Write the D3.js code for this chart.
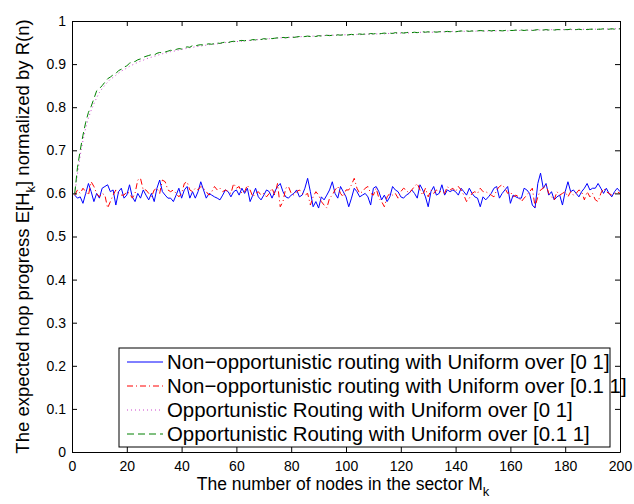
<!DOCTYPE html>
<html>
<head>
<meta charset="utf-8">
<script src="https://cdn.jsdelivr.net/npm/d3@7"></script>
<style>
  html, body { margin: 0; padding: 0; background: #fff; }
  svg { display: block; font-family: "Liberation Sans", Arial, Helvetica, sans-serif; }
</style>
</head>
<body>
<svg id="chart" width="634" height="504"></svg>
<script>
// Number of nodes in the sector, M_k = 1..200
const nodeCounts = d3.range(1, 201);

// Non-opportunistic routing, link quality uniform over [0 1]
const nonOppUniform01 = [
  0.596,0.589,0.592,0.577,0.600,0.623,0.604,0.581,0.600,0.589,
  0.612,0.616,0.620,0.604,0.608,0.573,0.604,0.612,0.589,0.596,
  0.620,0.592,0.581,0.600,0.589,0.608,0.596,0.585,0.600,0.581,
  0.612,0.631,0.604,0.596,0.589,0.589,0.581,0.596,0.612,0.589,
  0.608,0.616,0.589,0.604,0.589,0.604,0.627,0.608,0.589,0.600,
  0.596,0.592,0.589,0.585,0.596,0.608,0.604,0.592,0.604,0.608,
  0.596,0.612,0.600,0.612,0.581,0.596,0.612,0.592,0.585,0.596,
  0.608,0.604,0.589,0.604,0.616,0.623,0.604,0.592,0.589,0.596,
  0.600,0.608,0.592,0.596,0.612,0.635,0.604,0.569,0.581,0.566,
  0.592,0.585,0.596,0.608,0.627,0.600,0.589,0.616,0.604,0.592,
  0.569,0.589,0.612,0.604,0.592,0.596,0.600,0.592,0.573,0.612,
  0.616,0.604,0.585,0.596,0.581,0.592,0.616,0.608,0.604,0.592,
  0.589,0.596,0.600,0.608,0.600,0.589,0.620,0.608,0.592,0.569,
  0.604,0.616,0.596,0.600,0.620,0.596,0.608,0.604,0.608,0.604,
  0.596,0.612,0.604,0.596,0.612,0.600,0.592,0.589,0.569,0.592,
  0.585,0.592,0.600,0.612,0.616,0.589,0.600,0.608,0.616,0.577,
  0.596,0.592,0.589,0.589,0.612,0.608,0.600,0.573,0.566,0.623,
  0.647,0.612,0.623,0.596,0.604,0.585,0.592,0.596,0.573,0.604,
  0.627,0.604,0.608,0.600,0.592,0.604,0.612,0.623,0.608,0.612,
  0.612,0.623,0.612,0.600,0.612,0.600,0.592,0.604,0.612,0.604
];

// Non-opportunistic routing, link quality uniform over [0.1 1]
const nonOppUniform011 = [
  0.596,0.608,0.600,0.612,0.604,0.596,0.627,0.616,0.600,0.592,
  0.600,0.596,0.566,0.581,0.596,0.608,0.600,0.596,0.596,0.604,
  0.600,0.589,0.600,0.631,0.635,0.608,0.608,0.600,0.592,0.608,
  0.612,0.600,0.631,0.627,0.608,0.604,0.608,0.600,0.592,0.600,
  0.623,0.627,0.608,0.604,0.612,0.608,0.616,0.612,0.604,0.596,
  0.604,0.616,0.608,0.612,0.604,0.608,0.604,0.600,0.623,0.612,
  0.616,0.600,0.604,0.619,0.608,0.592,0.600,0.604,0.596,0.600,
  0.592,0.600,0.612,0.596,0.623,0.569,0.581,0.612,0.616,0.600,
  0.596,0.604,0.608,0.600,0.596,0.600,0.573,0.592,0.604,0.596,
  0.581,0.573,0.566,0.589,0.596,0.608,0.616,0.600,0.592,0.608,
  0.608,0.620,0.635,0.612,0.600,0.604,0.612,0.616,0.600,0.596,
  0.612,0.589,0.581,0.569,0.592,0.600,0.596,0.600,0.589,0.604,
  0.612,0.608,0.600,0.608,0.616,0.623,0.608,0.596,0.612,0.592,
  0.608,0.600,0.608,0.604,0.604,0.600,0.616,0.608,0.612,0.604,
  0.616,0.608,0.596,0.581,0.589,0.600,0.604,0.600,0.612,0.604,
  0.604,0.600,0.596,0.592,0.608,0.616,0.620,0.612,0.600,0.604,
  0.592,0.596,0.592,0.581,0.589,0.596,0.604,0.612,0.569,0.592,
  0.608,0.612,0.620,0.600,0.592,0.585,0.604,0.596,0.600,0.604,
  0.592,0.604,0.596,0.600,0.608,0.604,0.585,0.604,0.592,0.600,
  0.585,0.581,0.600,0.612,0.604,0.600,0.596,0.600,0.604,0.600
];

// Opportunistic routing, link quality uniform over [0 1]
const oppUniform01 = [
  0.600,0.645,0.688,0.722,0.752,0.775,0.793,0.808,0.822,0.834,
  0.843,0.851,0.858,0.865,0.869,0.874,0.879,0.884,0.887,0.891,
  0.895,0.898,0.901,0.904,0.907,0.909,0.912,0.914,0.916,0.918,
  0.920,0.922,0.924,0.925,0.927,0.929,0.930,0.931,0.933,0.934,
  0.935,0.937,0.938,0.939,0.940,0.941,0.942,0.943,0.944,0.945,
  0.946,0.946,0.947,0.948,0.949,0.950,0.950,0.951,0.952,0.952,
  0.953,0.953,0.954,0.955,0.955,0.956,0.956,0.957,0.957,0.958,
  0.958,0.959,0.959,0.960,0.960,0.961,0.961,0.961,0.962,0.962,
  0.963,0.963,0.963,0.964,0.964,0.964,0.965,0.965,0.965,0.966,
  0.966,0.966,0.967,0.967,0.967,0.967,0.968,0.968,0.968,0.968,
  0.968,0.968,0.968,0.969,0.968,0.969,0.969,0.970,0.969,0.970,
  0.970,0.970,0.971,0.970,0.971,0.971,0.972,0.971,0.972,0.972,
  0.972,0.973,0.972,0.973,0.973,0.973,0.974,0.973,0.974,0.974,
  0.974,0.974,0.975,0.974,0.975,0.975,0.975,0.975,0.976,0.975,
  0.976,0.976,0.976,0.976,0.976,0.977,0.976,0.977,0.977,0.977,
  0.976,0.977,0.976,0.977,0.977,0.977,0.977,0.978,0.977,0.978,
  0.978,0.978,0.978,0.978,0.978,0.979,0.978,0.979,0.979,0.979,
  0.979,0.979,0.979,0.979,0.980,0.979,0.980,0.980,0.980,0.980,
  0.980,0.980,0.980,0.980,0.981,0.980,0.981,0.981,0.981,0.981,
  0.981,0.981,0.981,0.981,0.981,0.982,0.981,0.982,0.982,0.982
];

// Opportunistic routing, link quality uniform over [0.1 1]
const oppUniform011 = [
  0.600,0.660,0.700,0.735,0.765,0.788,0.802,0.820,0.838,0.843,
  0.850,0.858,0.866,0.870,0.875,0.878,0.885,0.888,0.893,0.896,
  0.902,0.905,0.906,0.910,0.912,0.916,0.918,0.920,0.922,0.921,
  0.925,0.927,0.926,0.928,0.930,0.932,0.931,0.934,0.936,0.935,
  0.938,0.940,0.939,0.943,0.942,0.944,0.945,0.944,0.946,0.947,
  0.946,0.948,0.949,0.948,0.950,0.951,0.950,0.952,0.953,0.952,
  0.954,0.955,0.954,0.956,0.955,0.957,0.956,0.958,0.957,0.959,
  0.958,0.960,0.959,0.960,0.961,0.960,0.962,0.961,0.962,0.963,
  0.962,0.963,0.964,0.963,0.964,0.965,0.964,0.965,0.964,0.966,
  0.965,0.966,0.967,0.966,0.967,0.966,0.968,0.967,0.968,0.967,
  0.968,0.969,0.968,0.969,0.970,0.969,0.970,0.969,0.971,0.970,
  0.971,0.970,0.971,0.972,0.971,0.972,0.971,0.973,0.972,0.973,
  0.972,0.973,0.974,0.973,0.974,0.973,0.974,0.975,0.974,0.975,
  0.974,0.975,0.974,0.975,0.976,0.975,0.976,0.975,0.976,0.975,
  0.976,0.977,0.976,0.977,0.976,0.977,0.976,0.977,0.978,0.977,
  0.977,0.978,0.977,0.978,0.977,0.978,0.977,0.978,0.979,0.978,
  0.978,0.979,0.978,0.979,0.978,0.979,0.979,0.978,0.979,0.980,
  0.979,0.979,0.980,0.979,0.980,0.979,0.980,0.980,0.979,0.980,
  0.980,0.981,0.980,0.980,0.981,0.980,0.981,0.980,0.981,0.981,
  0.980,0.981,0.981,0.982,0.981,0.981,0.982,0.981,0.981,0.982
];

const xTicks = [0, 20, 40, 60, 80, 100, 120, 140, 160, 180, 200];
const yTicks = [0, 0.1, 0.2, 0.3, 0.4, 0.5, 0.6, 0.7, 0.8, 0.9, 1];

const seriesNames = [
  "Non−opportunistic routing with Uniform over [0 1]",
  "Non−opportunistic routing with Uniform over [0.1 1]",
  "Opportunistic Routing with Uniform over [0 1]",
  "Opportunistic Routing with Uniform over [0.1 1]"
];

const series = [
  { name: seriesNames[0], values: nonOppUniform01, color: "#0000ff", dash: null },
  { name: seriesNames[1], values: nonOppUniform011, color: "#ff0000", dash: "6,3,1,3" },
  { name: seriesNames[2], values: oppUniform01, color: "#cc44cc", dash: "1,3" },
  { name: seriesNames[3], values: oppUniform011, color: "#008000", dash: "7,4" }
];

const svg = d3.select("#chart");
const plot = { left: 72, right: 620, top: 21, bottom: 452 };

const x = d3.scaleLinear().domain([0, 200]).range([plot.left, plot.right]);
const y = d3.scaleLinear().domain([0, 1]).range([plot.bottom, plot.top]);

// Clip region for the data lines
svg.append("defs").append("clipPath").attr("id", "plot-clip")
  .append("rect")
  .attr("x", plot.left).attr("y", plot.top)
  .attr("width", plot.right - plot.left).attr("height", plot.bottom - plot.top);

// Data lines
const line = d3.line()
  .x((d, i) => x(nodeCounts[i]))
  .y(d => y(d));

const lines = svg.append("g").attr("clip-path", "url(#plot-clip)");
series.forEach(s => {
  lines.append("path")
    .datum(s.values)
    .attr("d", line)
    .attr("fill", "none")
    .attr("stroke", s.color)
    .attr("stroke-width", 1)
    .attr("stroke-dasharray", s.dash);
});

// Axes with inward ticks on all four sides of the box
const tickLen = 5;
const fmtY = d => d3.format("~g")(d);

const bottomAxis = d3.axisBottom(x).tickValues(xTicks).tickSize(-tickLen).tickSizeOuter(0).tickPadding(9).tickFormat(d3.format("d"));
const topAxis = d3.axisTop(x).tickValues(xTicks).tickSize(-tickLen).tickSizeOuter(0).tickFormat("");
const leftAxis = d3.axisLeft(y).tickValues(yTicks).tickSize(-tickLen).tickSizeOuter(0).tickPadding(6).tickFormat(fmtY);
const rightAxis = d3.axisRight(y).tickValues(yTicks).tickSize(-tickLen).tickSizeOuter(0).tickFormat("");

function styleAxis(g) {
  g.select(".domain").attr("stroke", "#000").attr("stroke-width", 1);
  g.selectAll(".tick line").attr("stroke", "#000");
  g.selectAll(".tick text")
    .attr("fill", "#000")
    .style("font-size", "14px")
    .style("font-family", "'Liberation Sans', Arial, sans-serif");
}

svg.append("g").attr("transform", `translate(0,${plot.bottom})`).call(bottomAxis).call(styleAxis);
svg.append("g").attr("transform", `translate(0,${plot.top})`).call(topAxis).call(styleAxis);
svg.append("g").attr("transform", `translate(${plot.left},0)`).call(leftAxis).call(styleAxis);
svg.append("g").attr("transform", `translate(${plot.right},0)`).call(rightAxis).call(styleAxis);

// Axis titles
const xTitle = svg.append("text")
  .attr("x", (plot.left + plot.right) / 2 - 3)
  .attr("y", 490)
  .attr("text-anchor", "middle")
  .style("font-size", "17.5px");
xTitle.append("tspan").text("The number of nodes in the sector M");
xTitle.append("tspan").attr("dy", 6).style("font-size", "13px").text("k");

const yTitle = svg.append("text")
  .attr("transform", `translate(29,${(plot.top + plot.bottom) / 2}) rotate(-90)`)
  .attr("text-anchor", "middle")
  .style("font-size", "18.5px");
yTitle.append("tspan").text("The expected hop progress E[H");
yTitle.append("tspan").attr("dy", 6).style("font-size", "13px").text("k");
yTitle.append("tspan").attr("dy", -6).text("] normalized by R(n)");

// Legend
const legend = { left: 119, top: 348, right: 610, bottom: 447, rowStart: 362, rowStep: 24 };
const lg = svg.append("g");
lg.append("rect")
  .attr("x", legend.left).attr("y", legend.top)
  .attr("width", legend.right - legend.left).attr("height", legend.bottom - legend.top)
  .attr("fill", "#fff").attr("stroke", "#000").attr("stroke-width", 1);

series.forEach((s, i) => {
  const cy = legend.rowStart + i * legend.rowStep;
  lg.append("line")
    .attr("x1", 127).attr("x2", 163).attr("y1", cy).attr("y2", cy)
    .attr("stroke", s.color).attr("stroke-width", 1)
    .attr("stroke-dasharray", s.dash);
  lg.append("text")
    .attr("x", 167).attr("y", cy)
    .attr("dy", "0.35em")
    .style("font-size", "20.4px")
    .text(s.name);
});
</script>
</body>
</html>
